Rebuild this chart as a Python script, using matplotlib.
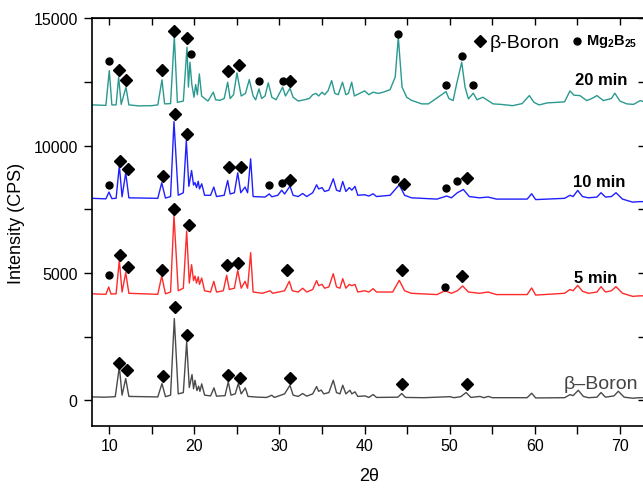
import numpy as np
import matplotlib
matplotlib.use("Agg")
import matplotlib.pyplot as plt
from matplotlib.ticker import MultipleLocator

plt.rcParams["font.family"] = ["Liberation Sans", "DejaVu Sans"]
plt.rcParams["mathtext.fontset"] = "custom"
plt.rcParams["mathtext.rm"] = "Liberation Sans"
plt.rcParams["mathtext.bf"] = "Liberation Sans:bold"

# (2theta, intensity) vertices
boron_pts = [
    (8.0, 130), (9.5, 120), (10.7, 140), (11.18, 1310), (11.5, 200), (11.93, 850), (12.3, 150),
    (15.7, 130), (16.19, 655), (16.6, 140), (17.2, 200), (17.64, 3205), (18.1, 250), (18.7, 300),
    (19.09, 2290), (19.4, 500), (19.72, 1008), (19.9, 450), (20.07, 785), (20.3, 380), (20.5, 550),
    (20.65, 350), (20.86, 643), (21.2, 200), (21.9, 170), (22.3, 486), (22.6, 160), (23.6, 180),
    (23.98, 722), (24.3, 200), (24.8, 250), (25.16, 655), (25.5, 250), (25.98, 486), (26.3, 150),
    (27.5, 120), (28.5, 110), (29.08, 196), (29.4, 110), (30.6, 250), (31.23, 590), (31.6, 200),
    (32.2, 150), (32.72, 263), (33.2, 160), (33.9, 250), (34.36, 537), (34.6, 350), (34.9, 400),
    (35.2, 250), (35.8, 300), (36.32, 785), (36.7, 300), (37.1, 250), (37.43, 590), (37.8, 250),
    (38.28, 392), (38.5, 250), (38.87, 330), (39.2, 150), (40.05, 170), (40.5, 110), (41.0, 224),
    (41.4, 110), (43.9, 120), (44.36, 263), (44.8, 110), (47.0, 100), (50.04, 140), (50.5, 100),
    (51.3, 140), (51.92, 302), (52.5, 110), (53.56, 150), (54.0, 100), (54.54, 150), (55.0, 100),
    (59.1, 100), (59.63, 275), (60.1, 90), (63.5, 100), (64.13, 220), (64.5, 180), (65.11, 392),
    (65.7, 150), (66.3, 100), (67.3, 120), (67.78, 302), (68.3, 120), (69.3, 170), (69.81, 353),
    (70.5, 120), (71.5, 80), (72.3, 100), (73.0, 100),
]

min5_pts = [
    (8.0, 4180), (9.6, 4160), (9.93, 4448), (10.2, 4170), (10.8, 4180), (11.18, 5492), (11.5, 4250),
    (11.93, 5010), (12.3, 4200), (15.7, 4160), (16.16, 4880), (16.6, 4180), (17.2, 4250), (17.6, 7258),
    (18.1, 4300), (18.7, 4400), (19.09, 6646), (19.4, 4600), (19.67, 5324), (19.9, 4700), (20.07, 4880),
    (20.25, 4600), (20.45, 4850), (20.6, 4550), (20.86, 4800), (21.2, 4300), (21.9, 4250), (22.28, 4670),
    (22.6, 4250), (23.4, 4300), (23.79, 4904), (24.1, 4350), (24.7, 4400), (25.09, 5100), (25.5, 4400),
    (25.95, 4670), (26.25, 4400), (26.61, 5794), (26.9, 4250), (28.0, 4200), (28.9, 4300), (29.2, 4200),
    (30.6, 4300), (31.15, 4670), (31.5, 4300), (32.2, 4250), (32.72, 4400), (33.2, 4250), (33.9, 4350),
    (34.36, 4700), (34.6, 4500), (35.0, 4550), (35.3, 4400), (35.8, 4450), (36.32, 4970), (36.7, 4450),
    (37.1, 4400), (37.43, 4775), (37.8, 4400), (38.2, 4550), (38.5, 4500), (38.87, 4550), (39.2, 4250),
    (40.0, 4300), (40.5, 4250), (41.0, 4382), (41.4, 4250), (43.3, 4250), (44.07, 4708), (44.7, 4300),
    (45.5, 4200), (48.5, 4150), (49.45, 4300), (50.2, 4200), (50.9, 4300), (51.52, 4488), (52.2, 4250),
    (53.5, 4200), (54.5, 4250), (55.5, 4150), (59.1, 4150), (59.63, 4410), (60.1, 4130), (63.5, 4200),
    (64.13, 4350), (64.5, 4300), (65.04, 4512), (65.6, 4280), (66.3, 4200), (67.3, 4250), (67.78, 4460),
    (68.3, 4250), (69.0, 4300), (69.54, 4460), (70.3, 4200), (71.5, 4080), (72.3, 4100), (73.0, 4100),
]

min10_pts = [
    (8.0, 7930), (9.6, 7910), (9.96, 8176), (10.3, 7920), (10.8, 7930), (11.18, 9220), (11.5, 7990),
    (11.93, 8933), (12.3, 7950), (15.7, 7930), (16.16, 8541), (16.6, 7940), (17.2, 8000), (17.6, 10945),
    (18.1, 8050), (18.7, 8150), (19.05, 10200), (19.35, 8400), (19.67, 9023), (19.9, 8450), (20.07, 8550),
    (20.25, 8350), (20.45, 8600), (20.6, 8300), (20.86, 8500), (21.2, 8050), (21.9, 8050), (22.28, 8372),
    (22.6, 8000), (23.5, 8050), (23.91, 8631), (24.2, 8100), (24.7, 8150), (25.09, 8933), (25.45, 8150),
    (25.95, 8372), (26.25, 8150), (26.61, 9482), (26.9, 8000), (28.3, 7980), (28.8, 8100), (29.1, 7990),
    (29.8, 8050), (30.26, 8250), (30.6, 8100), (31.23, 8411), (31.6, 8050), (32.2, 8000), (32.72, 8120),
    (33.2, 8000), (33.9, 8150), (34.36, 8462), (34.6, 8300), (35.0, 8350), (35.3, 8200), (35.8, 8250),
    (36.32, 8697), (36.7, 8250), (37.1, 8200), (37.43, 8592), (37.8, 8200), (38.2, 8350), (38.5, 8250),
    (38.87, 8400), (39.2, 8050), (40.0, 8070), (40.5, 8020), (41.0, 8109), (41.4, 8000), (43.0, 8050),
    (44.07, 8462), (44.7, 8050), (45.5, 7950), (48.5, 7900), (49.64, 8020), (50.2, 7950), (50.9, 8150),
    (51.6, 8278), (52.3, 8000), (53.5, 7950), (54.5, 7980), (55.5, 7900), (59.1, 7900), (59.63, 8109),
    (60.1, 7880), (63.5, 7930), (64.13, 8050), (64.5, 8000), (65.04, 8240), (65.6, 8000), (66.3, 7950),
    (67.3, 7980), (67.78, 8150), (68.3, 7980), (69.0, 8000), (69.54, 8150), (70.3, 7900), (71.5, 7780),
    (72.3, 7800), (73.0, 7800),
]

min20_pts = [
    (8.0, 11600), (9.6, 11580), (10.0, 12946), (10.3, 11600), (10.8, 11600), (11.1, 12687), (11.4, 11620),
    (11.96, 12295), (12.3, 11600), (13.5, 11560), (15.0, 11570), (15.7, 11600), (16.19, 12581), (16.5, 11640),
    (17.2, 11650), (17.64, 14296), (18.0, 11700), (18.7, 11750), (19.13, 13864), (19.3, 12300), (19.48, 13276),
    (19.7, 12400), (19.95, 11900), (20.15, 12400), (20.35, 12000), (20.58, 12817), (20.85, 11950), (21.2, 11850),
    (21.6, 11750), (22.22, 12100), (22.5, 11800), (23.0, 11780), (23.5, 11850), (23.91, 12490), (24.2, 11850),
    (24.6, 12000), (25.0, 12856), (25.5, 11950), (26.0, 12050), (26.45, 12593), (26.9, 11950), (27.2, 11800),
    (27.59, 12228), (27.9, 11850), (28.3, 11950), (28.68, 12464), (29.1, 11900), (29.6, 11800), (30.37, 12295),
    (30.7, 11950), (31.23, 12250), (31.6, 11900), (32.2, 11750), (32.9, 11800), (33.5, 11850), (33.9, 12000),
    (34.3, 12050), (34.6, 11950), (35.0, 12100), (35.3, 12000), (35.7, 12150), (36.13, 12554), (36.5, 12050),
    (36.9, 12000), (37.4, 12490), (37.8, 12000), (38.1, 12050), (38.48, 12490), (38.8, 11950), (39.4, 12050),
    (40.0, 12150), (40.5, 12000), (41.0, 12100), (41.6, 12050), (42.2, 12100), (43.0, 12200), (43.6, 12700),
    (43.96, 14257), (44.4, 12300), (44.95, 11900), (45.5, 11780), (46.7, 11640), (47.5, 11640), (48.9, 11965),
    (49.57, 12122), (49.9, 11850), (50.4, 11770), (50.8, 12400), (51.41, 13276), (51.8, 12300), (52.2, 11835),
    (52.77, 12060), (53.2, 11800), (53.9, 11900), (55.1, 11640), (56.0, 11620), (57.4, 11570), (58.5, 11650),
    (59.36, 11965), (59.9, 11700), (60.5, 11600), (61.5, 11680), (62.6, 11700), (63.5, 11720), (64.13, 12150),
    (64.6, 11980), (65.3, 11965), (66.1, 11770), (66.7, 11850), (67.3, 11965), (68.05, 11770), (69.0, 11850),
    (69.4, 12060), (70.0, 11750), (70.8, 11640), (71.6, 11620), (72.4, 11770), (73.0, 11700),
]

# phase markers: diamonds = beta-boron, dots = Mg2B25
boron_diamonds = [(11.18, 1479), (12.12, 1204), (16.35, 957), (17.72, 3664), (19.09, 2550),
                  (23.98, 981), (25.36, 879), (31.23, 890), (44.36, 655), (52.0, 655)]
min5_diamonds = [(11.26, 5716), (12.23, 5233), (16.16, 5100), (17.64, 7493), (19.37, 6866),
                 (23.79, 5296), (25.16, 5402), (30.92, 5100), (44.36, 5100), (51.41, 4865)]
min5_dots = [(10.0, 4904), (49.45, 4449)]
min10_diamonds = [(11.26, 9392), (12.23, 9090), (16.27, 8803), (17.72, 11247), (19.13, 10451),
                  (24.1, 9157), (25.48, 9157), (31.23, 8631), (44.63, 8501), (52.0, 8725)]
min10_dots = [(9.96, 8435), (28.8, 8435), (30.26, 8541), (43.57, 8697), (49.57, 8333), (50.82, 8592)]
min20_diamonds = [(11.1, 12974), (11.96, 12581), (16.19, 12986), (17.64, 14492), (19.13, 14218),
                  (23.91, 12946), (25.24, 13182), (31.23, 12542)]
min20_dots = [(10.0, 13339), (19.6, 13600), (27.59, 12542), (30.37, 12542), (43.96, 14384),
              (49.57, 12385), (51.41, 13535), (52.77, 12385)]

fig = plt.figure(figsize=(6.43, 4.89), dpi=100)
ax = fig.add_axes([0.1435, 0.1274, 0.8603, 0.8331])

for pts, col in [(boron_pts, "#4a4a4a"), (min5_pts, "#ff2a2a"),
                 (min10_pts, "#2020ff"), (min20_pts, "#2a9990")]:
    a = np.array(pts)
    ax.plot(a[:, 0], a[:, 1], color=col, lw=1.0)

for d in [boron_diamonds, min5_diamonds, min10_diamonds, min20_diamonds]:
    a = np.array(d)
    ax.plot(a[:, 0], a[:, 1], "kD", ms=6, ls="none")
for d in [min5_dots, min10_dots, min20_dots]:
    a = np.array(d)
    ax.plot(a[:, 0], a[:, 1], "ko", ms=5, ls="none")

# legend-like labels inside the plot
ax.plot([53.56], [14123], "kD", ms=6)
ax.text(54.74, 13888, "β-Boron", fontsize=14)
ax.plot([65.0], [14123], "ko", ms=5)
ax.text(66.02, 13990, r"$\mathbf{Mg_2B_{25}}$", fontsize=10.5)

ax.text(64.74, 12421, "20 min", fontsize=12, fontweight="bold")
ax.text(64.54, 8396, "10 min", fontsize=12, fontweight="bold")
ax.text(64.66, 4645, "5 min", fontsize=12, fontweight="bold")
ax.text(63.38, 486, "β–Boron", fontsize=14, color="#444444")

ax.set_xlim(8, 73)
ax.set_ylim(-1000, 15000)
ax.xaxis.set_major_locator(MultipleLocator(10))
ax.xaxis.set_minor_locator(MultipleLocator(5))
ax.yaxis.set_major_locator(MultipleLocator(5000))
ax.yaxis.set_minor_locator(MultipleLocator(2500))
ax.tick_params(which="both", direction="out", length=5.5, width=1, labelsize=11.5)
ax.tick_params(axis="y", pad=5)

top = ax.secondary_xaxis("top")
top.xaxis.set_major_locator(MultipleLocator(5))
top.tick_params(direction="in", length=5, width=1, labeltop=False)
right = ax.secondary_yaxis("right")
right.yaxis.set_major_locator(MultipleLocator(2500))
right.tick_params(direction="in", length=5, width=1, labelright=False)

for s in ax.spines.values():
    s.set_linewidth(1.2)

ax.set_xlabel("2θ", fontsize=13, labelpad=10)
ax.set_ylabel("Intensity (CPS)", fontsize=13, labelpad=6)

plt.savefig("out.png", dpi=100)
